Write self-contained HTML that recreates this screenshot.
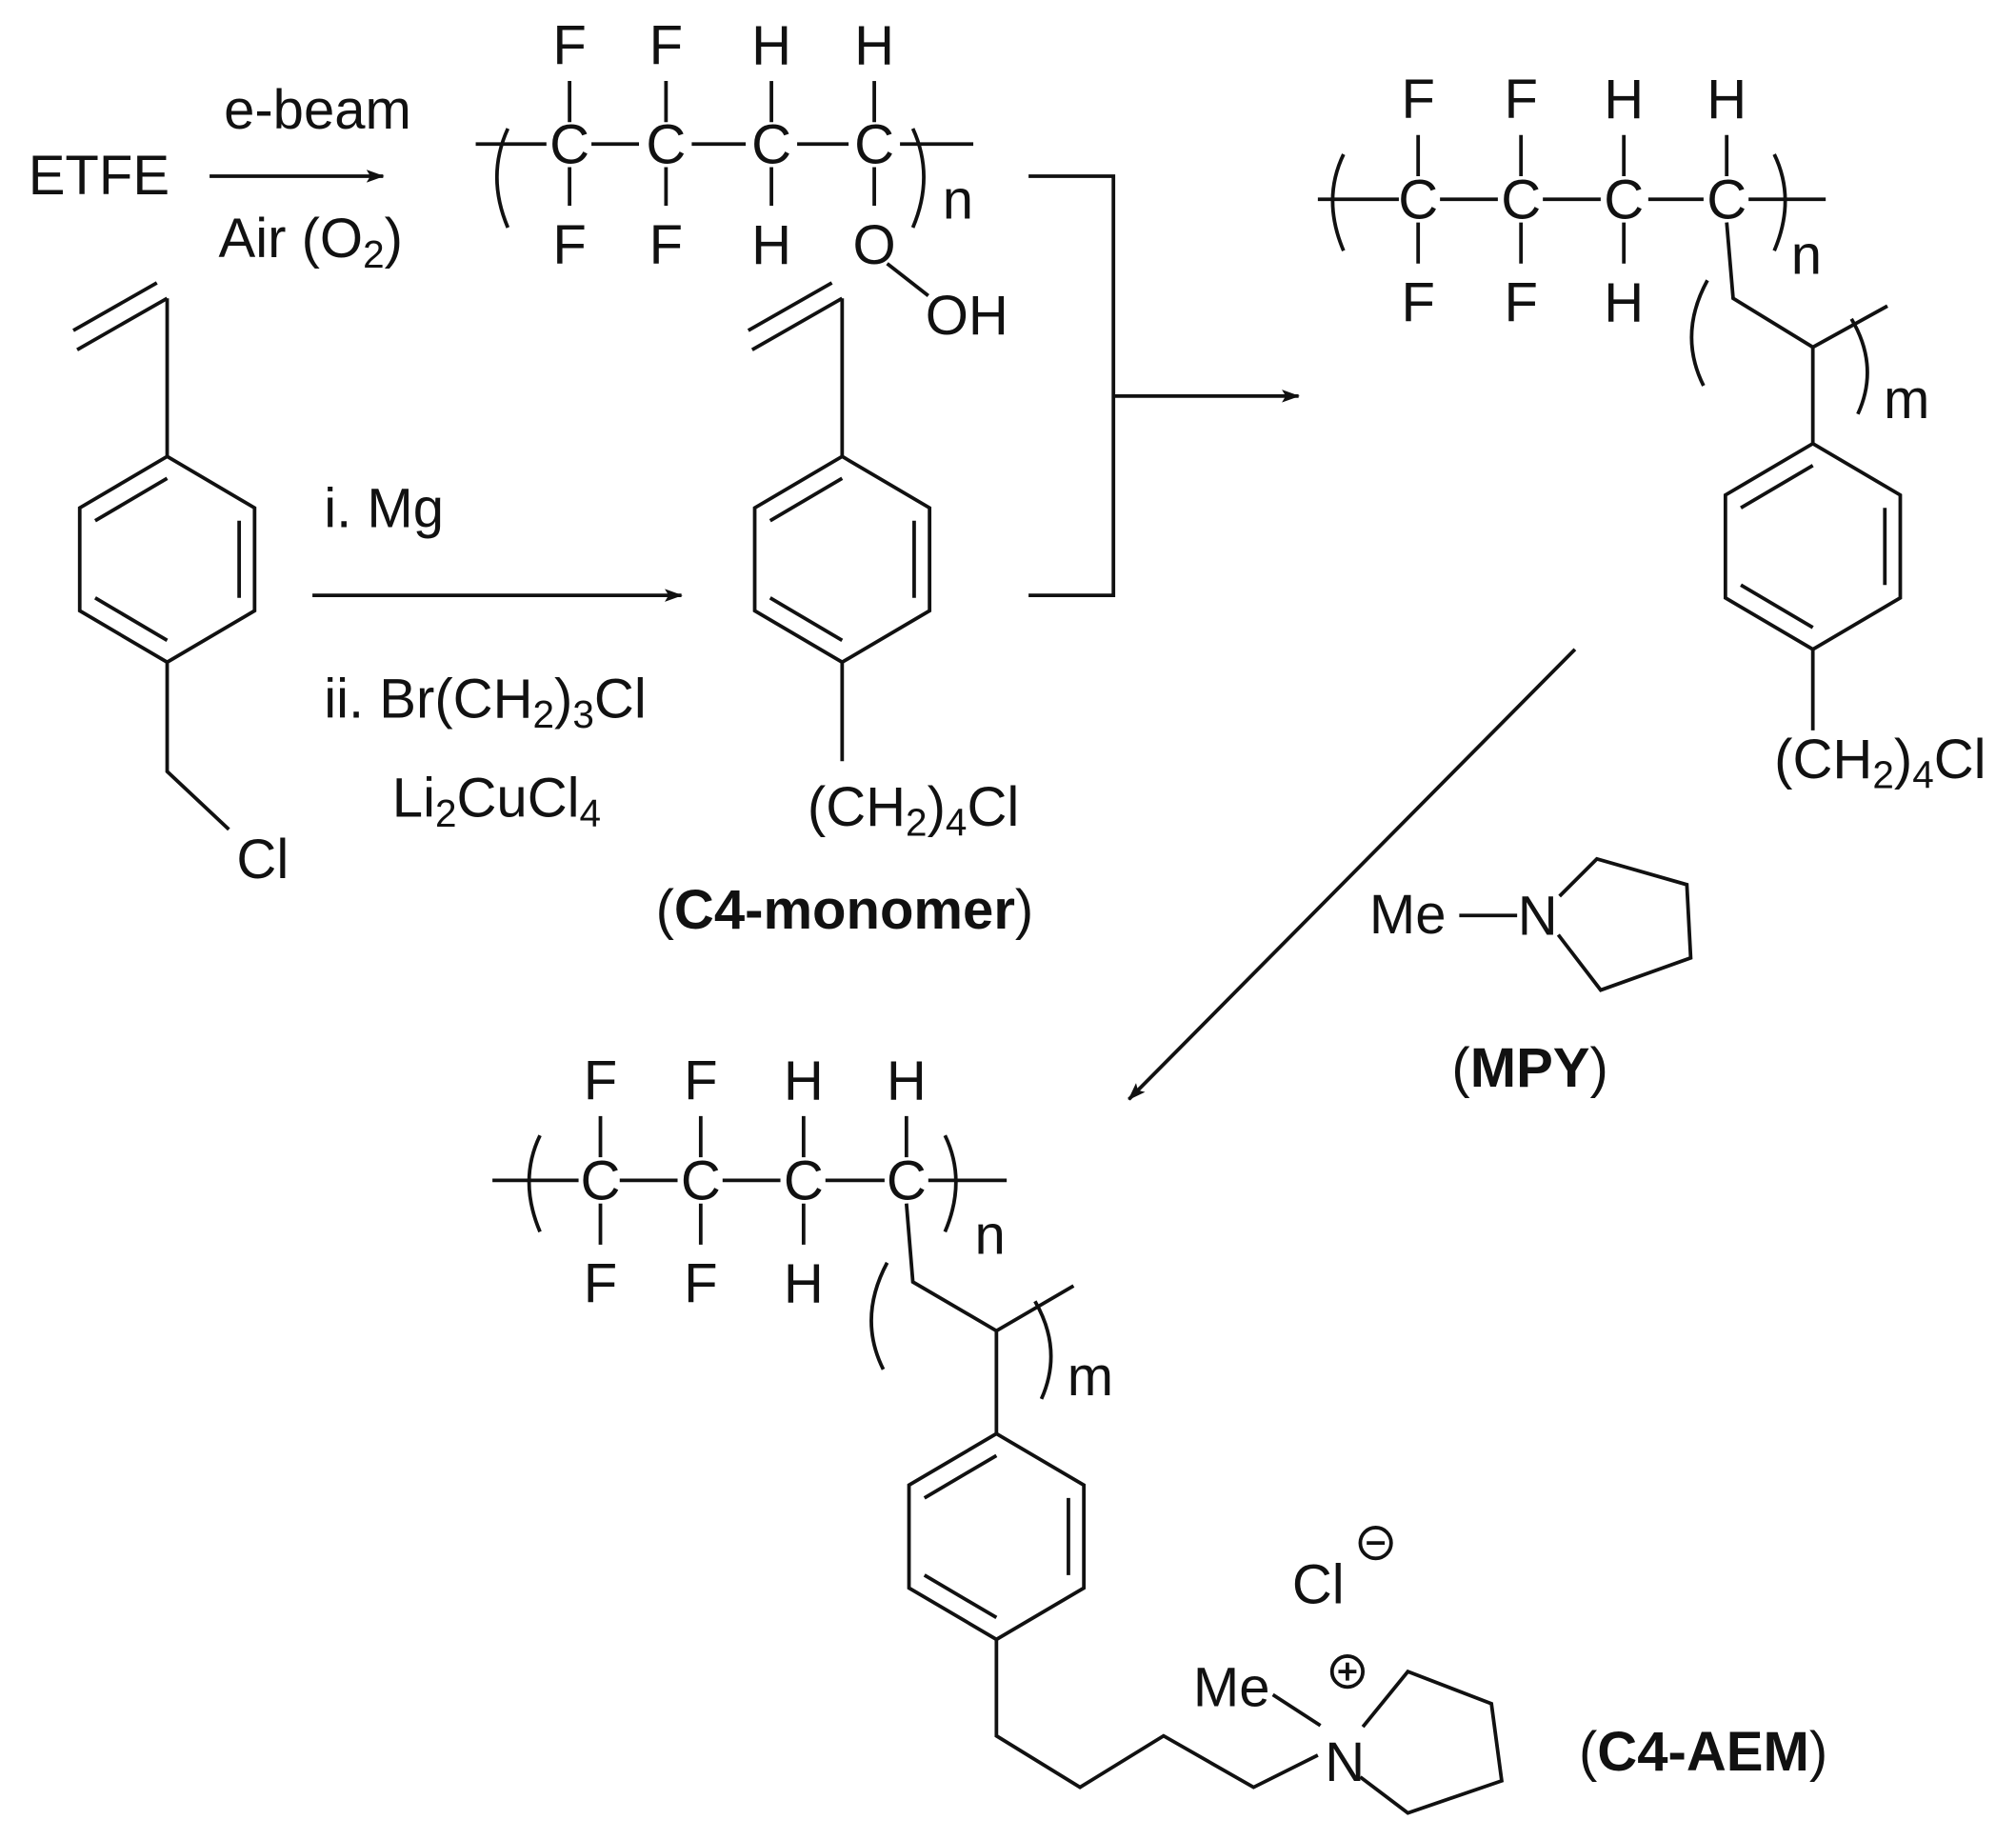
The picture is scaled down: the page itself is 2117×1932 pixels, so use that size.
<!DOCTYPE html>
<html><head><meta charset="utf-8"><style>html,body{margin:0;padding:0;background:#fff}svg{display:block}</style></head><body>
<svg width="2117" height="1932" viewBox="0 0 1568 1431" xmlns="http://www.w3.org/2000/svg" font-family="'Liberation Sans', sans-serif" font-size="43" fill="#111">
<defs><marker id="ah" markerWidth="14" markerHeight="10" refX="13" refY="5" orient="auto" markerUnits="userSpaceOnUse"><path d="M0,0 L14,5 L0,10 L3,5Z" fill="#111"/></marker></defs>
<g stroke="#111" stroke-width="2.8" fill="none">
<line x1="163" y1="137" x2="298" y2="137" marker-end="url(#ah)"/>
<path d="M395,100 Q378,137 395,177"/><path d="M710,100 Q727,137 710,177"/>
<line x1="370" y1="112" x2="425" y2="112"/><line x1="460" y1="112" x2="497" y2="112"/><line x1="538" y1="112" x2="580" y2="112"/><line x1="620" y1="112" x2="660" y2="112"/><line x1="700" y1="112" x2="757" y2="112"/>
<line x1="443" y1="63" x2="443" y2="95"/><line x1="443" y1="130" x2="443" y2="160"/>
<line x1="518" y1="63" x2="518" y2="95"/><line x1="518" y1="130" x2="518" y2="160"/>
<line x1="600" y1="63" x2="600" y2="95"/><line x1="600" y1="130" x2="600" y2="160"/>
<line x1="680" y1="63" x2="680" y2="95"/><line x1="680" y1="130" x2="680" y2="160"/>
<line x1="690" y1="205" x2="722" y2="230"/>
<path d="M800,137 H866 V463 H800"/>
<line x1="866" y1="308" x2="1010" y2="308" marker-end="url(#ah)"/>
<path d="M1045,120 Q1028,155 1045,195"/><path d="M1380,120 Q1397,155 1380,195"/>
<line x1="1025" y1="155" x2="1088" y2="155"/><line x1="1120" y1="155" x2="1165" y2="155"/><line x1="1200" y1="155" x2="1245" y2="155"/><line x1="1282" y1="155" x2="1325" y2="155"/><line x1="1360" y1="155" x2="1420" y2="155"/>
<line x1="1103" y1="105" x2="1103" y2="137"/><line x1="1103" y1="173" x2="1103" y2="205"/>
<line x1="1183" y1="105" x2="1183" y2="137"/><line x1="1183" y1="173" x2="1183" y2="205"/>
<line x1="1263" y1="105" x2="1263" y2="137"/><line x1="1263" y1="173" x2="1263" y2="205"/>
<line x1="1343" y1="105" x2="1343" y2="137"/>
<path d="M1328,218 Q1305,260 1325,300"/><path d="M1440,248 Q1462,285 1445,322"/>
<path d="M1343,173 L1348,232 L1410,270 L1468,238"/>
<line x1="1410" y1="270" x2="1410" y2="345"/>
<path d="M1410,345 L1478,385 L1478,465 L1410,505 L1342,465 L1342,385Z"/>
<line x1="1466" y1="395" x2="1466" y2="455"/><line x1="1354" y1="395" x2="1410" y2="362"/><line x1="1354" y1="455" x2="1410" y2="488"/>
<line x1="1410" y1="505" x2="1410" y2="568"/>
<line x1="130" y1="232" x2="60" y2="272"/><line x1="122" y1="220" x2="57" y2="257"/>
<line x1="130" y1="232" x2="130" y2="355"/>
<path d="M130,355 L198,395 L198,475 L130,515 L62,475 L62,395Z"/>
<line x1="186" y1="405" x2="186" y2="465"/><line x1="74" y1="405" x2="130" y2="372"/><line x1="74" y1="465" x2="130" y2="498"/>
<path d="M130,515 L130,600 L178,645"/>
<line x1="243" y1="463" x2="530" y2="463" marker-end="url(#ah)"/>
<line x1="655" y1="232" x2="585" y2="272"/><line x1="647" y1="220" x2="582" y2="257"/>
<line x1="655" y1="232" x2="655" y2="355"/>
<path d="M655,355 L723,395 L723,475 L655,515 L587,475 L587,395Z"/>
<line x1="711" y1="405" x2="711" y2="465"/><line x1="599" y1="405" x2="655" y2="372"/><line x1="599" y1="465" x2="655" y2="498"/>
<line x1="655" y1="515" x2="655" y2="592"/>
<line x1="1225" y1="505" x2="878" y2="855" marker-end="url(#ah)"/>
<line x1="1135" y1="712" x2="1180" y2="712"/>
<path d="M1212,727 L1245,770 L1315,745 L1312,688 L1242,668 L1213,697"/>
<path d="M420,883 Q403,918 420,958"/><path d="M735,883 Q752,918 735,958"/>
<line x1="383" y1="918" x2="450" y2="918"/><line x1="482" y1="918" x2="527" y2="918"/><line x1="562" y1="918" x2="607" y2="918"/><line x1="642" y1="918" x2="688" y2="918"/><line x1="722" y1="918" x2="783" y2="918"/>
<line x1="467" y1="868" x2="467" y2="900"/><line x1="467" y1="936" x2="467" y2="968"/>
<line x1="545" y1="868" x2="545" y2="900"/><line x1="545" y1="936" x2="545" y2="968"/>
<line x1="625" y1="868" x2="625" y2="900"/><line x1="625" y1="936" x2="625" y2="968"/>
<line x1="705" y1="868" x2="705" y2="900"/>
<path d="M690,982 Q667,1025 687,1065"/><path d="M805,1012 Q827,1050 810,1088"/>
<path d="M705,936 L710,997 L775,1035 L835,1000"/>
<line x1="775" y1="1035" x2="775" y2="1115"/>
<path d="M775,1115 L843,1155 L843,1235 L775,1275 L707,1235 L707,1155Z"/>
<line x1="831" y1="1165" x2="831" y2="1225"/><line x1="719" y1="1165" x2="775" y2="1132"/><line x1="719" y1="1225" x2="775" y2="1258"/>
<path d="M775,1275 L775,1350 L840,1390 L905,1350 L975,1390 L1025,1365"/>
<line x1="990" y1="1318" x2="1027" y2="1342"/>
<path d="M1058,1382 L1095,1410 L1168,1385 L1160,1325 L1095,1300 L1060,1343"/>
<circle cx="1048" cy="1300" r="12"/><line x1="1041" y1="1300" x2="1055" y2="1300"/><line x1="1048" y1="1293" x2="1048" y2="1307"/>
<circle cx="1070" cy="1200" r="12"/><line x1="1063" y1="1200" x2="1077" y2="1200"/>
</g>
<g>
<text x="22" y="151">ETFE</text>
<text x="247" y="100" text-anchor="middle">e-beam</text>
<text x="170" y="200">Air (O<tspan font-size="30" dy="8">2</tspan><tspan dy="-8">)</tspan></text>
<g text-anchor="middle">
<text x="443" y="50">F</text><text x="518" y="50">F</text><text x="600" y="50">H</text><text x="680" y="50">H</text>
<text x="443" y="127">C</text><text x="518" y="127">C</text><text x="600" y="127">C</text><text x="680" y="127">C</text>
<text x="443" y="205">F</text><text x="518" y="205">F</text><text x="600" y="205">H</text><text x="680" y="205">O</text>
<text x="752" y="260">OH</text>
<text x="745" y="170">n</text>
<text x="1103" y="92">F</text><text x="1183" y="92">F</text><text x="1263" y="92">H</text><text x="1343" y="92">H</text>
<text x="1103" y="170">C</text><text x="1183" y="170">C</text><text x="1263" y="170">C</text><text x="1343" y="170">C</text>
<text x="1103" y="250">F</text><text x="1183" y="250">F</text><text x="1263" y="250">H</text>
<text x="1405" y="213">n</text><text x="1483" y="325">m</text>
<text x="467" y="855">F</text><text x="545" y="855">F</text><text x="625" y="855">H</text><text x="705" y="855">H</text>
<text x="467" y="933">C</text><text x="545" y="933">C</text><text x="625" y="933">C</text><text x="705" y="933">C</text>
<text x="467" y="1013">F</text><text x="545" y="1013">F</text><text x="625" y="1013">H</text>
<text x="770" y="975">n</text><text x="848" y="1085">m</text>
<text x="1196" y="727">N</text>
<text x="1046" y="1385">N</text>
</g>
<text x="1380" y="605">(CH<tspan font-size="30" dy="8">2</tspan><tspan dy="-8">)</tspan><tspan font-size="30" dy="8">4</tspan><tspan dy="-8">Cl</tspan></text>
<text x="184" y="683">Cl</text>
<text x="252" y="410">i. Mg</text>
<text x="252" y="558">ii. Br(CH<tspan font-size="30" dy="8">2</tspan><tspan dy="-8">)</tspan><tspan font-size="30" dy="8">3</tspan><tspan dy="-8">Cl</tspan></text>
<text x="305" y="635">Li<tspan font-size="30" dy="8">2</tspan><tspan dy="-8">CuCl</tspan><tspan font-size="30" dy="8">4</tspan></text>
<text x="628" y="642">(CH<tspan font-size="30" dy="8">2</tspan><tspan dy="-8">)</tspan><tspan font-size="30" dy="8">4</tspan><tspan dy="-8">Cl</tspan></text>
<text x="510" y="722">(<tspan font-weight="bold">C4-monomer</tspan>)</text>
<text x="1065" y="726">Me</text>
<text x="1190" y="845" text-anchor="middle">(<tspan font-weight="bold">MPY</tspan>)</text>
<text x="928" y="1327">Me</text>
<text x="1005" y="1247">Cl</text>
<text x="1228" y="1377">(<tspan font-weight="bold">C4-AEM</tspan>)</text>
</g>
</svg>
</body></html>
